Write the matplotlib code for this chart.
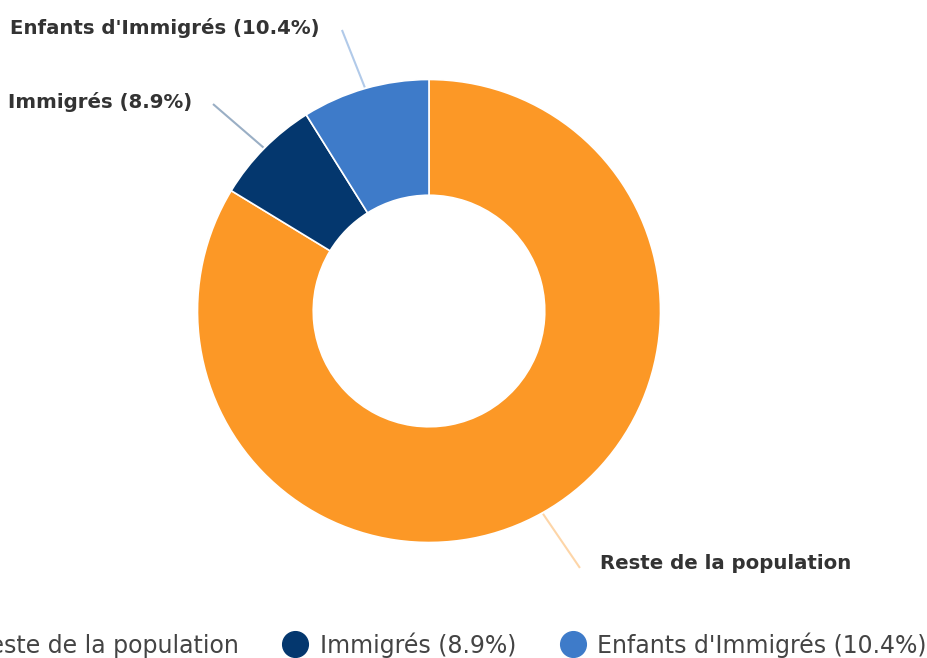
import matplotlib.pyplot as plt
from matplotlib.lines import Line2D
import numpy as np

# Données (part de la couronne)
categories = ["Reste de la population", "Immigrés", "Enfants d'immigrés"]
libelles = ["Reste de la population", "Immigrés (8.9%)", "Enfants d'Immigrés (10.4%)"]
valeurs = [83.7, 7.4, 8.9]
couleurs = ["#FC9826", "#04376E", "#3E7BC9"]

fig = plt.figure(figsize=(9.28, 6.58), dpi=100)
ax = fig.add_axes([0, 0, 1, 1])

wedges, _ = ax.pie(valeurs, radius=1, startangle=90, counterclock=False,
                   colors=couleurs,
                   wedgeprops=dict(width=0.5, edgecolor="white", linewidth=1.2))

# centre du donut a (429, 311) px, rayon 231.5 px
ax.set_xlim(-429 / 231.5, (928 - 429) / 231.5)
ax.set_ylim(-(658 - 311) / 231.5, 311 / 231.5)
ax.set_aspect("auto")
ax.axis("off")

# position des etiquettes (texte, fin du trait, alignement)
etiquettes = [
    ((0.739, -1.089), (0.652, -1.110), "left"),
    ((-1.024, 0.903), (-0.933, 0.894), "right"),
    ((-0.471, 1.222), (-0.376, 1.214), "right"),
]

for w, lab, col, (pos_txt, fin, ha) in zip(wedges, libelles, couleurs, etiquettes):
    ang = np.deg2rad((w.theta1 + w.theta2) / 2)
    debut = (1.005 * np.cos(ang), 1.005 * np.sin(ang))
    ax.plot([debut[0], fin[0]], [debut[1], fin[1]], color=col, alpha=0.4,
            lw=1.5, solid_capstyle="butt")
    ax.text(pos_txt[0], pos_txt[1], lab, ha=ha, va="center", fontsize=14.2,
            fontweight="bold", color="#333333")

# legende en bas
handles = [Line2D([0], [0], marker="o", linestyle="none", markersize=18.5,
                  markerfacecolor=c, markeredgecolor=c) for c in couleurs]
fig.legend(handles, libelles, loc="center", ncol=3,
           bbox_to_anchor=(431 / 928, 1 - 645 / 658), frameon=False,
           fontsize=17, labelcolor="#444444", handletextpad=0.45,
           columnspacing=1.78, handlelength=1.2)

plt.savefig("out.png", dpi=100)
